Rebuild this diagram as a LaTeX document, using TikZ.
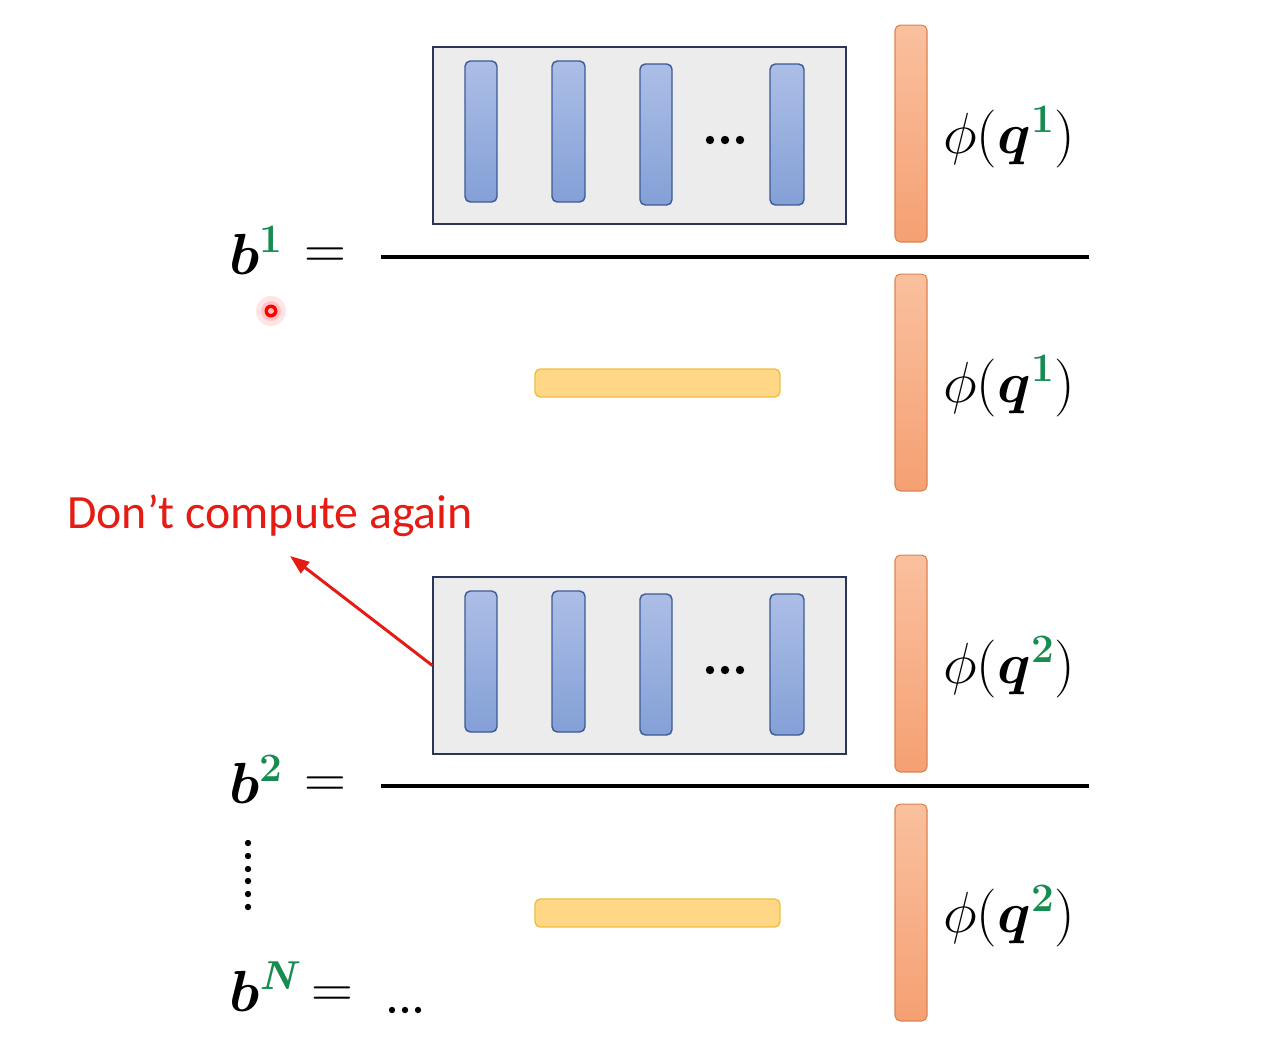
\RequirePackage{fix-cm}
\documentclass[tikz,border=0pt]{standalone}
\usepackage{amsmath,bm}
\usepackage{fontspec}
\newfontfamily\calib{Carlito}
\usetikzlibrary{arrows.meta}
\definecolor{grn}{RGB}{22,140,80}
\definecolor{blueTop}{RGB}{172,190,230}
\definecolor{blueBot}{RGB}{132,160,215}
\definecolor{blueEdge}{RGB}{60,90,150}
\definecolor{orTop}{RGB}{250,192,158}
\definecolor{orBot}{RGB}{245,160,115}
\definecolor{orEdge}{RGB}{220,130,80}
\definecolor{yelFill}{RGB}{255,215,135}
\definecolor{yelEdge}{RGB}{240,190,60}
\definecolor{boxFill}{RGB}{236,236,236}
\definecolor{boxEdge}{RGB}{40,55,85}
\definecolor{redtxt}{RGB}{228,28,20}
\newcommand\supg[1]{\textcolor{grn}{\text{\fontsize{23}{23}\selectfont\bfseries #1}}}
\newcommand\supgi[1]{\textcolor{grn}{\text{\fontsize{23}{23}\selectfont\bfseries\itshape #1}}}
\begin{document}
\begin{tikzpicture}[x=0.02cm,y=-0.02cm,
  greybox/.style={draw=boxEdge,fill=boxFill,line width=0.8pt,minimum width=8.26cm,minimum height=3.54cm,inner sep=0pt},
  bluebar/.style={draw=blueEdge,top color=blueTop,bottom color=blueBot,line width=0.8pt,rounded corners=3pt,minimum width=0.64cm,minimum height=2.82cm,inner sep=0pt},
  orbar/.style={draw=orEdge,top color=orTop,bottom color=orBot,line width=0.6pt,rounded corners=3pt,minimum width=0.64cm,minimum height=4.34cm,inner sep=0pt},
  yelbar/.style={draw=yelEdge,fill=yelFill,line width=0.8pt,rounded corners=3pt,minimum width=4.9cm,minimum height=0.56cm,inner sep=0pt},
  fracline/.style={line width=2.8pt,black},
  mathlbl/.style={inner sep=0pt,font=\fontsize{33}{38}\selectfont},
  note/.style={inner sep=0pt,text=redtxt,font=\calib\fontsize{27.2}{32}\selectfont},
  pointer/.style={-{Triangle[length=11pt,width=8pt]},redtxt,line width=1.7pt}
]
\useasboundingbox (0,0) rectangle (1271,1039);

% ---------- top fraction ----------
\node[greybox] (box1) at (639.5,135.5) {};
\node[bluebar] (b1a) at (481,131.5) {};
\node[bluebar,minimum width=0.66cm] (b1b) at (568.5,131.5) {};
\node[bluebar] (b1c) at (656,134.5) {};
\node[bluebar,minimum width=0.68cm] (b1d) at (787,134.5) {};
\foreach \xx in {710,725,740} \fill (\xx,140) circle (4.2);
\node[orbar] (o1) at (911,133.5) {};
\node[mathlbl,anchor=west] (p1) at (943,137) {$\phi(\bm{q}^{\supg{1}})$};
\coordinate (l1a) at (381,257);
\coordinate (l1b) at (1089,257);
\draw[fracline] (l1a) -- (l1b);
\node[yelbar] (y1) at (657.5,383) {};
\node[orbar] (o2) at (911,382.5) {};
\node[mathlbl,anchor=west] (p2) at (943,386) {$\phi(\bm{q}^{\supg{1}})$};
\node[mathlbl,anchor=base west] (bb1) at (229,274) {$\bm{b}^{\supg{1}}$};
\node[mathlbl] (eq1) at (325,258) {$=$};

% laser pointer
\fill[red,opacity=0.10] (271,311) circle (15);
\fill[red,opacity=0.15] (271,311) circle (10);
\fill[red] (271,311) circle (6.5);
\fill[red!25] (271,311) circle (3);

% ---------- note ----------
\node[note,anchor=west] (note) at (67,516) {Don’t compute again};

% ---------- bottom fraction ----------
\node[greybox] (box2) at (639.5,665.5) {};
\node[bluebar] (b2a) at (481,661.5) {};
\node[bluebar,minimum width=0.66cm] (b2b) at (568.5,661.5) {};
\node[bluebar] (b2c) at (656,664.5) {};
\node[bluebar,minimum width=0.68cm] (b2d) at (787,664.5) {};
\foreach \xx in {710,725,740} \fill (\xx,670) circle (4.2);
\node[orbar] (o3) at (911,663.5) {};
\node[mathlbl,anchor=west] (p3) at (943,667) {$\phi(\bm{q}^{\supg{2}})$};
\coordinate (l2a) at (381,786);
\coordinate (l2b) at (1089,786);
\draw[fracline] (l2a) -- (l2b);
\node[yelbar] (y2) at (657.5,913) {};
\node[orbar] (o4) at (911,912.5) {};
\node[mathlbl,anchor=west] (p4) at (943,916) {$\phi(\bm{q}^{\supg{2}})$};
\node[mathlbl,anchor=base west] (bb2) at (229,803) {$\bm{b}^{\supg{2}}$};
\node[mathlbl] (eq2) at (325,787) {$=$};

% arrow
\coordinate (tip) at (290,556);
\draw[pointer] (box2.west) -- (tip);

% vertical dots
\foreach \yy in {843,856,869,881,894,907} \fill (248,\yy) circle (3.2);

% b^N
\node[mathlbl,anchor=base west] (bbN) at (229,1011) {$\bm{b}^{\supgi{N}}$};
\node[mathlbl] (eqN) at (332,997) {$=$};
\foreach \xx in {392,405,418} \fill (\xx,1010) circle (3.2);
\end{tikzpicture}
\end{document}
